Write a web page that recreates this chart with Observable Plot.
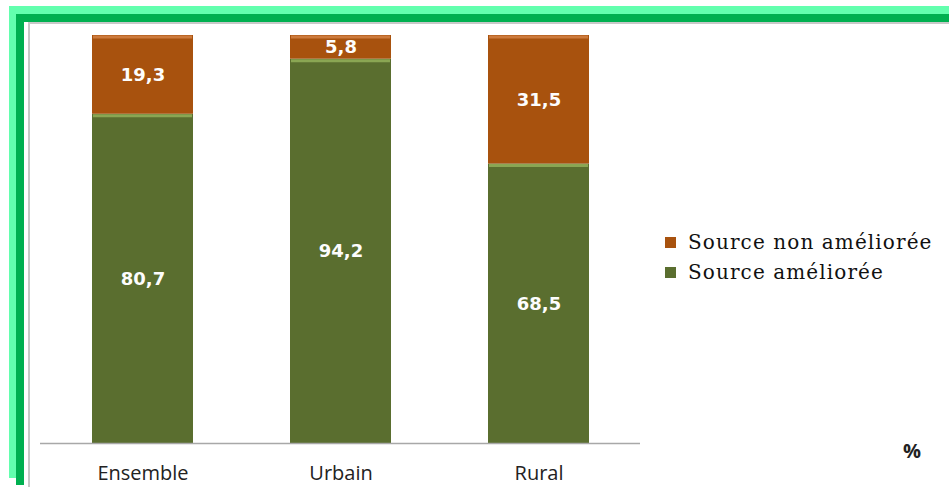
<!DOCTYPE html>
<html>
<head>
<meta charset="utf-8">
<script src="https://cdn.jsdelivr.net/npm/d3@7"></script>
<script src="https://cdn.jsdelivr.net/npm/@observablehq/plot@0.6"></script>
<style>
  html, body { margin: 0; padding: 0; background: #fff; }
  #wrap { position: relative; width: 949px; height: 487px; overflow: hidden; background: #fff; }
  .band { position: absolute; }
  #chart { position: absolute; left: 0; top: 0; }
  .legend { position: absolute; left: 665px; font-family: "DejaVu Serif", "Liberation Serif", serif; font-size: 20px; letter-spacing: 1.1px; color: #111; white-space: nowrap; line-height: 24px; }
  .legend .sw { display: inline-block; width: 11px; height: 11px; margin-right: 12px; vertical-align: 1px; }
  #pct { position: absolute; left: 903px; top: 437px; font-family: "Open Sans", sans-serif; font-weight: bold; font-size: 20px; color: #222; }
</style>
</head>
<body>
<div id="wrap">
  <div class="band" style="left:9px;top:6px;width:940px;height:8px;background:#63ffae"></div>
  <div class="band" style="left:9px;top:6px;width:7px;height:472px;background:#63ffae"></div>
  <div class="band" style="left:16px;top:14px;width:933px;height:8px;background:#00b050"></div>
  <div class="band" style="left:16px;top:14px;width:8px;height:471px;background:#00b050"></div>
  <div class="band" style="left:28px;top:22px;width:921px;height:2px;background:#c8c8c8"></div>
  <div class="band" style="left:28px;top:22px;width:2px;height:465px;background:#c8c8c8"></div>
  <div id="chart"></div>
  <div class="legend" style="top:230px"><span class="sw" style="background:#a8520e"></span>Source non améliorée</div>
  <div class="legend" style="top:260px"><span class="sw" style="background:#5a6e2f"></span>Source améliorée</div>
  <div id="pct">%</div>
</div>
<script>
const categories = ["Ensemble", "Urbain", "Rural"];
const series = ["Source améliorée", "Source non améliorée"];
const ameliore = [80.7, 94.2, 68.5];
const nonAmeliore = [19.3, 5.8, 31.5];
const colors = ["#5a6e2f", "#a8520e"];
const highlights = ["#8aa653", "#cc7a3c"];

const data = [];
categories.forEach((c, i) => {
  data.push({cat: c, series: series[0], value: ameliore[i], order: 0});
  data.push({cat: c, series: series[1], value: nonAmeliore[i], order: 1});
});

const fmt = v => v.toFixed(1).replace(".", ",");
const stackOpts = {x: "cat", y: "value", z: "series", order: "order"};

const plot = Plot.plot({
  width: 949,
  height: 487,
  marginLeft: 40,
  marginRight: 309,
  marginTop: 35,
  marginBottom: 44,
  style: {background: "transparent", overflow: "visible"},
  x: {domain: categories, paddingInner: 0.49, paddingOuter: 0.26, label: null},
  y: {domain: [0, 100], axis: null},
  color: {domain: series, range: colors},
  marks: [
    Plot.barY(data, Plot.stackY({...stackOpts, fill: "series"})),
    ...series.map((s, i) => Plot.tickY(data, Plot.filter(d => d.series === s,
      Plot.stackY2({...stackOpts, stroke: highlights[i], strokeWidth: 3, dy: 1.5, inset: 1})))),
    Plot.text(data, Plot.stackY({...stackOpts,
      text: d => fmt(d.value), fill: "#fdfdfd", fontWeight: "bold", fontSize: 18,
      fontFamily: "DejaVu Sans, Verdana, sans-serif"})),
    Plot.ruleY([0], {stroke: "#a8a8a8", strokeWidth: 1.5}),
    Plot.axisX({tickSize: 0, tickPadding: 22, fontSize: 20, fontFamily: "'Open Sans', sans-serif",
      fill: "#222", label: null, style: {letterSpacing: "0.6px"}})
  ]
});

document.getElementById("chart").appendChild(plot);
</script>
</body>
</html>
